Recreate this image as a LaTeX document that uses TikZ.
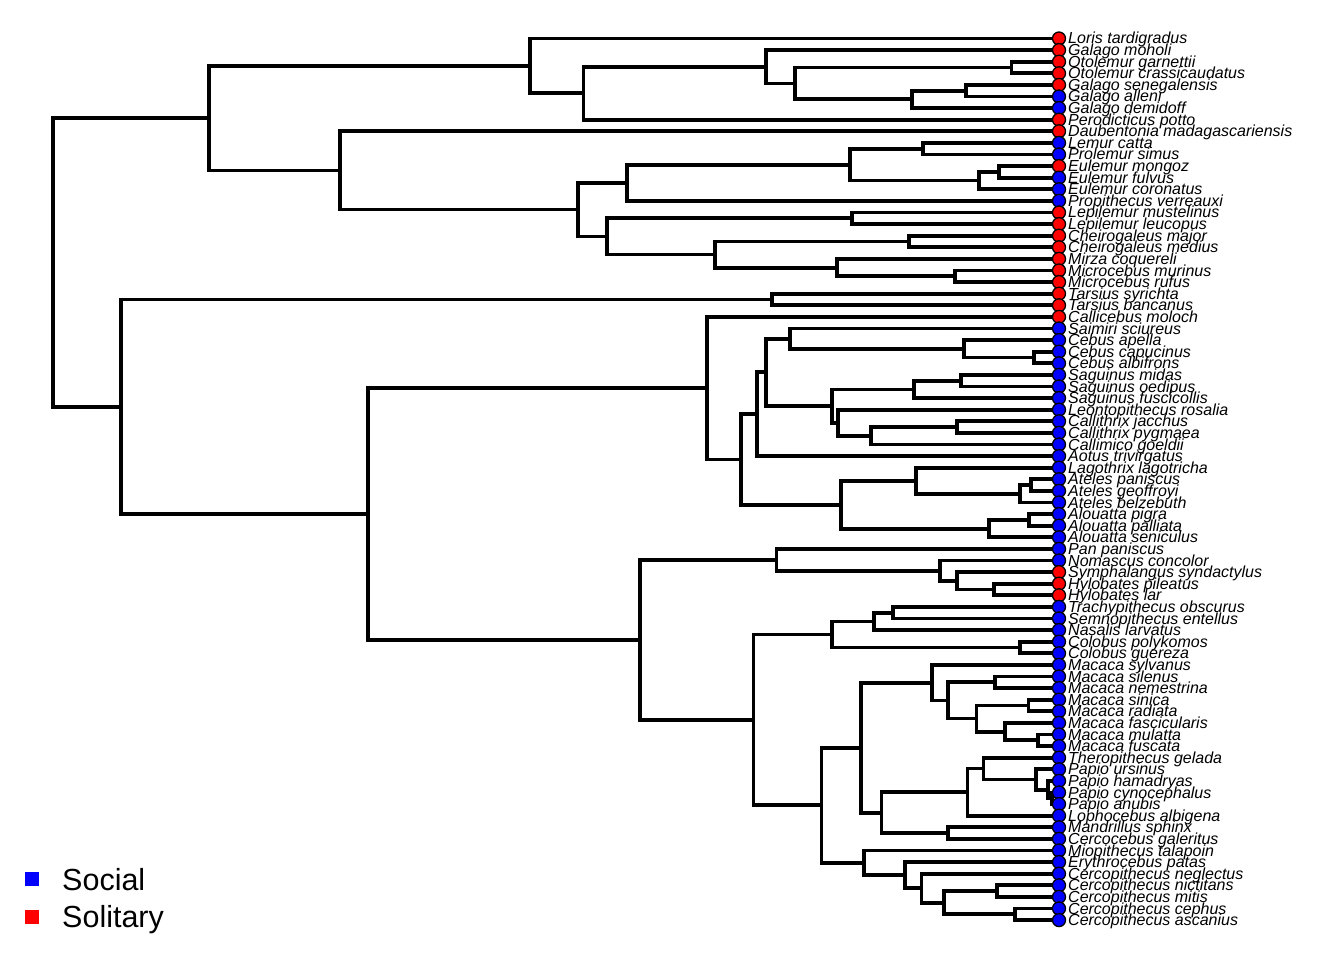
\documentclass[tikz,border=0pt]{standalone}
\usepackage{fontspec}
\setmainfont{Liberation Sans}
\usetikzlibrary{calc}

% one clade: name, depth, upper child, lower child
\newcommand{\clade}[4]{%
  \coordinate (#1m) at ($(#3)!0.5!(#4)$);
  \coordinate (#1) at (#2,0 |- #1m);
  \draw[branch] (#1) |- (#3);
  \draw[branch] (#1) |- (#4);
}

\def\tiplist{1/red/Loris tardigradus, 2/red/Galago moholi, 3/red/Otolemur garnettii,
 4/red/Otolemur crassicaudatus, 5/red/Galago senegalensis, 6/blue/Galago alleni,
 7/blue/Galago demidoff, 8/red/Perodicticus potto, 9/red/Daubentonia madagascariensis,
 10/blue/Lemur catta, 11/blue/Prolemur simus, 12/red/Eulemur mongoz, 13/blue/Eulemur fulvus,
 14/blue/Eulemur coronatus, 15/blue/Propithecus verreauxi, 16/red/Lepilemur mustelinus,
 17/red/Lepilemur leucopus, 18/red/Cheirogaleus major, 19/red/Cheirogaleus medius,
 20/red/Mirza coquereli, 21/red/Microcebus murinus, 22/red/Microcebus rufus,
 23/red/Tarsius syrichta, 24/red/Tarsius bancanus, 25/red/Callicebus moloch,
 26/blue/Saimiri sciureus, 27/blue/Cebus apella, 28/blue/Cebus capucinus,
 29/blue/Cebus albifrons, 30/blue/Saguinus midas, 31/blue/Saguinus oedipus,
 32/blue/Saguinus fuscicollis, 33/blue/Leontopithecus rosalia, 34/blue/Callithrix jacchus,
 35/blue/Callithrix pygmaea, 36/blue/Callimico goeldii, 37/blue/Aotus trivirgatus,
 38/blue/Lagothrix lagotricha, 39/blue/Ateles paniscus, 40/blue/Ateles geoffroyi,
 41/blue/Ateles belzebuth, 42/blue/Alouatta pigra, 43/blue/Alouatta palliata,
 44/blue/Alouatta seniculus, 45/blue/Pan paniscus, 46/blue/Nomascus concolor,
 47/red/Symphalangus syndactylus, 48/red/Hylobates pileatus, 49/red/Hylobates lar,
 50/blue/Trachypithecus obscurus, 51/blue/Semnopithecus entellus, 52/blue/Nasalis larvatus,
 53/blue/Colobus polykomos, 54/blue/Colobus guereza, 55/blue/Macaca sylvanus,
 56/blue/Macaca silenus, 57/blue/Macaca nemestrina, 58/blue/Macaca sinica,
 59/blue/Macaca radiata, 60/blue/Macaca fascicularis, 61/blue/Macaca mulatta,
 62/blue/Macaca fuscata, 63/blue/Theropithecus gelada, 64/blue/Papio ursinus,
 65/blue/Papio hamadryas, 66/blue/Papio cynocephalus, 67/blue/Papio anubis,
 68/blue/Lophocebus albigena, 69/blue/Mandrillus sphinx, 70/blue/Cercocebus galeritus,
 71/blue/Miopithecus talapoin, 72/blue/Erythrocebus patas, 73/blue/Cercopithecus neglectus,
 74/blue/Cercopithecus nictitans, 75/blue/Cercopithecus mitis, 76/blue/Cercopithecus cephus,
 77/blue/Cercopithecus ascanius}

\begin{document}
\begin{tikzpicture}[x=1pt,y=-1pt,
  branch/.style={line width=3.8pt},
  tipdot/.style={circle, draw=black, line width=1.3pt, minimum size=13pt, inner sep=0pt},
  tiplab/.style={anchor=base west, xshift=9pt, yshift=-5.5pt, inner sep=0pt,
    font=\fontsize{16}{16}\selectfont\itshape},
  legsq/.style={minimum size=14pt, inner sep=0pt},
  leglab/.style={anchor=base west, inner sep=0pt, font=\fontsize{30.5}{32}\selectfont}]
 \useasboundingbox (0,0) rectangle (1344,960);

    %Tips
    \foreach \n/\col/\sp in \tiplist
      \coordinate (t\n) at (1059, {38.5+(\n-1)*11.6});

    % Lorisiformes
    \clade{otol}{1011.5}{t3}{t4}
    \clade{gsen}{966}{t5}{t6}
    \clade{gdem}{912}{gsen}{t7}
    \clade{galb}{795}{otol}{gdem}
    \clade{galg}{766}{t2}{galb}
    \clade{lorb}{583.5}{galg}{t8}
    \clade{loris}{530}{t1}{lorb}
    % Lemuriformes
    \clade{lemur}{923}{t10}{t11}
    \clade{eulmf}{999}{t12}{t13}
    \clade{eulem}{979}{eulmf}{t14}
    \clade{lemrd}{850}{lemur}{eulem}
    \clade{indri}{627}{lemrd}{t15}
    \clade{lepil}{852}{t16}{t17}
    \clade{cheir}{909}{t18}{t19}
    \clade{micro}{955}{t21}{t22}
    \clade{mirza}{837}{t20}{micro}
    \clade{chgal}{715}{cheir}{mirza}
    \clade{lepch}{607}{lepil}{chgal}
    \clade{lemfm}{578}{indri}{lepch}
    \clade{strep}{340}{t9}{lemfm}
    \clade{prosim}{209}{loris}{strep}
    % Tarsius
    \clade{tars}{772}{t23}{t24}
    % New World
    \clade{cebal}{1034}{t28}{t29}
    \clade{cebus}{964}{t27}{cebal}
    \clade{saimc}{790}{t26}{cebus}
    \clade{sagmo}{961}{t30}{t31}
    \clade{sagui}{914}{sagmo}{t32}
    \clade{calli}{957}{t34}{t35}
    \clade{calgo}{871}{calli}{t36}
    \clade{leont}{838}{t33}{calgo}
    \clade{callt}{832}{sagui}{leont}
    \clade{cebid}{766}{saimc}{callt}
    \clade{aotus}{757}{cebid}{t37}
    \clade{atpg}{1031}{t39}{t40}
    \clade{ateles}{1020}{atpg}{t41}
    \clade{lagat}{916}{t38}{ateles}
    \clade{alpp}{1029}{t42}{t43}
    \clade{alou}{989}{alpp}{t44}
    \clade{atel}{841}{lagat}{alou}
    \clade{pitat}{741}{aotus}{atel}
    \clade{platy}{707}{t25}{pitat}
    % Hominoidea
    \clade{hylob}{994}{t48}{t49}
    \clade{symph}{957}{t47}{hylob}
    \clade{nomas}{940}{t46}{symph}
    \clade{homin}{776.5}{t45}{nomas}
    % Colobinae
    \clade{trase}{893}{t50}{t51}
    \clade{nasal}{874}{trase}{t52}
    \clade{colob}{1020}{t53}{t54}
    \clade{colin}{832}{nasal}{colob}
    % Papionini
    \clade{masn}{995}{t56}{t57}
    \clade{masr}{1028.5}{t58}{t59}
    \clade{mamf}{1038}{t61}{t62}
    \clade{mafas}{1005}{t60}{mamf}
    \clade{marad}{976.5}{masr}{mafas}
    \clade{macin}{948}{masn}{marad}
    \clade{macac}{932}{t55}{macin}
    \clade{pca}{1052}{t66}{t67}
    \clade{pham}{1048}{t65}{pca}
    \clade{papio}{1036}{t64}{pham}
    \clade{thero}{983.5}{t63}{papio}
    \clade{lopho}{967.5}{thero}{t68}
    \clade{mandr}{947.7}{t69}{t70}
    \clade{papb}{881.5}{lopho}{mandr}
    \clade{papin}{861}{macac}{papb}
    % Cercopithecini
    \clade{cemm}{997}{t74}{t75}
    \clade{ceca}{1015}{t76}{t77}
    \clade{cerc}{944}{cemm}{ceca}
    \clade{cneg}{921.5}{t73}{cerc}
    \clade{eryth}{905}{t72}{cneg}
    \clade{ctini}{864}{t71}{eryth}
    \clade{cinae}{821.5}{papin}{ctini}
    \clade{cerco}{753.5}{colin}{cinae}
    \clade{catar}{640}{homin}{cerco}
    % deep nodes
    \clade{anthr}{368}{platy}{catar}
    \clade{haplo}{121}{tars}{anthr}
    \clade{root}{53}{prosim}{haplo}

    % dots and names
    \foreach \n/\col/\sp in \tiplist {
      \node[tipdot, fill=\col] (d\n) at (t\n) {};
      \node[tiplab] (s\n) at (t\n) {\sp};
    }

    % legend
    \node[legsq, fill=blue] (ksocial) at (32,879) {};
    \node[legsq, fill=red] (ksolit) at (32,917) {};
    \node[leglab] (lsocial) at (62,890) {Social};
    \node[leglab] (lsolit) at (62,927) {Solitary};
\end{tikzpicture}
\end{document}
